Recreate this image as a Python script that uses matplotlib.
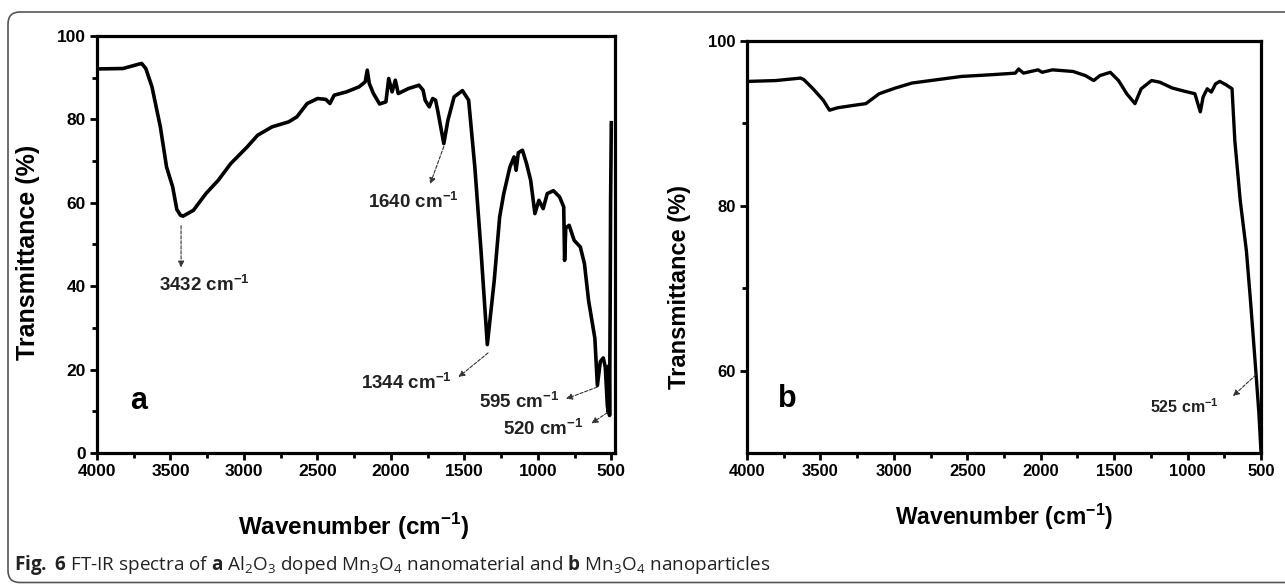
import matplotlib
matplotlib.use('Agg')
import matplotlib.pyplot as plt
from matplotlib.patches import FancyBboxPatch
from matplotlib.transforms import IdentityTransform

plt.rcParams['font.family'] = ['Liberation Sans', 'DejaVu Sans']
plt.rcParams['mathtext.fontset'] = 'custom'
plt.rcParams['mathtext.rm'] = 'Open Sans'
plt.rcParams['mathtext.bf'] = 'Liberation Sans:bold'
plt.rcParams['mathtext.sf'] = 'Open Sans:bold'

# (a) Al2O3 doped Mn3O4 - wavenumber / transmittance
wn_a = [3992, 3823, 3710, 3696, 3668, 3626, 3569, 3527, 3485, 3457, 3432, 3414, 3344,
        3259, 3175, 3090, 2978, 2907, 2809, 2696, 2640, 2570, 2499, 2443, 2415, 2386,
        2302, 2217, 2175, 2161, 2147, 2119, 2077, 2034, 2015, 1992, 1970, 1950, 1880,
        1809, 1781, 1767, 1739, 1716, 1696, 1682, 1640, 1612, 1570, 1513, 1471, 1429,
        1387, 1344, 1297, 1260, 1232, 1190, 1162, 1148, 1133, 1105, 1077, 1049, 1020,
        993, 964, 936, 894, 852, 824, 818, 810, 787, 753, 711, 683, 655, 612, 595,
        575, 555, 541, 527, 520, 515, 512, 508, 505, 500]
t_a = [92.1, 92.2, 93.3, 93.4, 92.2, 87.8, 78.2, 68.6, 63.8, 58.4, 57.0, 56.8, 58.2,
       62.2, 65.4, 69.4, 73.4, 76.2, 78.2, 79.4, 80.6, 83.8, 85.0, 84.8, 83.8, 85.8,
       86.6, 87.8, 89.0, 91.8, 88.6, 86.2, 83.7, 84.2, 89.8, 86.6, 89.4, 86.2, 87.4,
       88.2, 87.0, 84.6, 83.0, 85.0, 84.6, 82.2, 74.2, 79.8, 85.4, 86.9, 84.6, 68.6,
       48.6, 26.0, 41.3, 56.6, 62.2, 68.6, 71.0, 67.8, 72.0, 72.6, 69.4, 65.4, 57.4,
       60.6, 58.6, 62.2, 62.9, 61.4, 59.0, 46.2, 54.0, 54.6, 51.0, 49.4, 45.4, 36.6,
       27.5, 16.2, 21.9, 22.8, 20.6, 11.3, 9.7, 21.0, 9.0, 35.0, 60.0, 79.2]

# (b) Mn3O4 nanoparticles
wn_b = [3986, 3803, 3635, 3612, 3550, 3480, 3438, 3382, 3269, 3190, 3100, 2988, 2876,
        2707, 2538, 2342, 2173, 2150, 2117, 2018, 1990, 1920, 1779, 1695, 1639, 1597,
        1526, 1470, 1414, 1358, 1316, 1245, 1189, 1105, 1020, 950, 930, 913, 894, 866,
        838, 809, 781, 739, 697, 678, 641, 599, 571, 534, 514, 500]
t_b = [95.1, 95.2, 95.5, 95.3, 94.2, 92.8, 91.6, 91.9, 92.2, 92.4, 93.6, 94.3, 94.9,
       95.3, 95.7, 95.9, 96.1, 96.6, 96.1, 96.5, 96.2, 96.5, 96.3, 95.8, 95.2, 95.8,
       96.2, 95.2, 93.6, 92.4, 94.2, 95.2, 95.0, 94.3, 93.9, 93.6, 92.4, 91.4, 93.2,
       94.2, 93.8, 94.8, 95.1, 94.7, 94.2, 87.9, 80.6, 74.5, 68.4, 59.7, 54.8, 50.2]

# peak labels: (text, arrow tail, arrow head, text centre)
peaks_a = [('3432', (3428, 54.5), (3428, 44.5), (3270, 40.5)),
           ('1640', (1640, 73.5), (1733, 64.5), (1850, 60.3)),
           ('1344', (1339, 24.0), (1540, 18.2), (1895, 16.8)),
           ('595', (597, 15.8), (808, 13.0), (1125, 12.3)),
           ('520', (527, 9.7), (635, 7.1), (965, 5.9))]
peaks_b = [('525', (534, 59.5), (691, 56.9), (1020, 55.6))]

fig = plt.figure(figsize=(12.85, 5.84), dpi=100)

frame = FancyBboxPatch((8, 1.5), 1400, 570.5, boxstyle='round,pad=0,rounding_size=12',
                       transform=IdentityTransform(), fc='none', ec='#555555', lw=1.2)
fig.add_artist(frame)

ax1 = fig.add_axes([0.0755, 0.2243, 0.4031, 0.7141])
ax2 = fig.add_axes([0.5813, 0.2243, 0.4000, 0.7055])

ax1.plot(wn_a, t_a, color='black', lw=2.6)
ax2.plot(wn_b, t_b, color='black', lw=2.4)

ax1.set_xlim(4000, 475)
ax1.set_ylim(0, 100)
ax1.set_xticks(range(4000, 499, -500))
ax1.set_xticks(range(3750, 499, -500), minor=True)
ax1.set_yticks(range(0, 101, 20))
ax1.set_yticks(range(10, 100, 20), minor=True)

ax2.set_xlim(4000, 500)
ax2.set_ylim(50, 100)
ax2.set_xticks(range(4000, 499, -500))
ax2.set_xticks(range(3750, 499, -500), minor=True)
ax2.set_yticks([60, 80, 100])
ax2.set_yticks([70, 90], minor=True)

for ax, fs in ((ax1, 12.5), (ax2, 12)):
    for s in ax.spines.values():
        s.set_linewidth(2.3)
    ax.tick_params(which='major', direction='out', length=5, width=2, labelsize=fs, pad=3)
    ax.tick_params(which='minor', direction='out', length=3.5, width=2)
    for lab in ax.get_xticklabels() + ax.get_yticklabels():
        lab.set_fontweight('bold')

ax1.set_ylabel('Transmittance (%)', fontsize=18, fontweight='bold')
ax1.yaxis.set_label_coords(-0.11, 0.482)
ax1.set_xlabel(r'Wavenumber (cm$^{\mathbf{-1}}$)', fontsize=17.5, fontweight='bold')
ax1.xaxis.set_label_coords(0.496, -0.177)
ax1.xaxis.label.set_va('center')

ax2.set_ylabel('Transmittance (%)', fontsize=17, fontweight='bold')
ax2.yaxis.set_label_coords(-0.109, 0.403)
ax2.set_xlabel(r'Wavenumber (cm$^{\mathbf{-1}}$)', fontsize=16.5, fontweight='bold')
ax2.xaxis.set_label_coords(0.5, -0.155)
ax2.xaxis.label.set_va('center')

for ax, peaks, fs in ((ax1, peaks_a, 13.5), (ax2, peaks_b, 11.5)):
    for lab, tail, head, txt in peaks:
        ax.annotate('', xy=head, xytext=tail,
                    arrowprops=dict(arrowstyle='-|>', color='#333333', lw=0.8,
                                    ls=(0, (3, 1.5)), mutation_scale=9,
                                    shrinkA=0, shrinkB=0))
        ax.text(txt[0], txt[1], lab + r' cm$^{\mathbf{-1}}$', fontsize=fs,
                fontweight='bold', ha='center', va='center', color='#222222')

ax1.text(3718, 12.5, 'a', fontsize=22, fontweight='bold', ha='center', va='center')
ax2.text(3727, 56.5, 'b', fontsize=22, fontweight='bold', ha='center', va='center')

caption = (r'$\mathsf{Fig.}$ $\mathsf{6}$ FT-IR spectra of $\mathsf{a}$ Al$_2$O$_3$ doped '
           r'Mn$_3$O$_4$ nanomaterial and $\mathsf{b}$ Mn$_3$O$_4$ nanoparticles')
fig.text(0.011, 0.0325, caption, fontsize=13.6, family=['Open Sans', 'DejaVu Sans'],
         color='#222222', ha='left', va='center')

fig.savefig('out.png', dpi=100)
